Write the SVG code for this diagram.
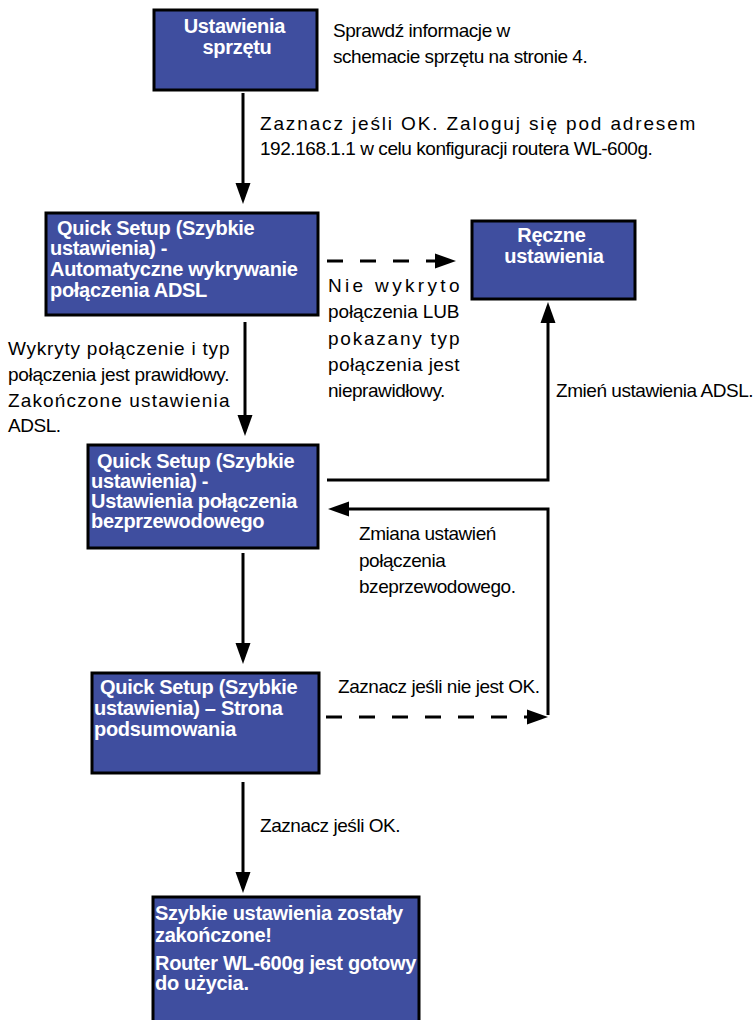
<svg xmlns="http://www.w3.org/2000/svg" width="755" height="1020" viewBox="0 0 755 1020">
  <style>
    .box { fill: #3f4e9f; stroke: #000; stroke-width: 3; }
    .bt { font-family: "Liberation Sans", Arial, sans-serif; font-weight: bold; font-size: 20px; letter-spacing: -0.3px; fill: #fff; }
    .lb { font-family: "Liberation Sans", Arial, sans-serif; font-size: 19px; letter-spacing: -0.45px; fill: #000; }
    .ln { fill: none; stroke: #000; stroke-width: 3; }
    .dash { stroke-dasharray: 16 17; }
  </style>
  <defs>
    <marker id="head" markerUnits="userSpaceOnUse" markerWidth="22" markerHeight="16" refX="14" refY="8" orient="auto">
      <path d="M0,0.5 L21,8 L0,15.5 z" fill="#000"/>
    </marker>
  </defs>
  <rect width="755" height="1020" fill="#fff"/>

  <!-- connectors -->
  <g id="connectors">
    <path class="ln" d="M243,93 V197" marker-end="url(#head)"/>
    <path class="ln dash" d="M327,261 H449" marker-end="url(#head)"/>
    <path class="ln" d="M245,322 V429" marker-end="url(#head)"/>
    <path class="ln" d="M327,480 H548 V309" marker-end="url(#head)"/>
    <path class="ln" d="M548,715 V509 H335" marker-end="url(#head)"/>
    <path class="ln" d="M243,553 V657" marker-end="url(#head)"/>
    <path class="ln dash" d="M326,717 H541" marker-end="url(#head)"/>
    <path class="ln" d="M243,782 V886" marker-end="url(#head)"/>
  </g>

  <!-- connector labels -->
  <g id="labels" class="lb">
    <text x="333" y="37">Sprawdź informacje w</text>
    <text x="333" y="63">schemacie sprzętu na stronie 4.</text>
    <text x="260" y="130" textLength="435" lengthAdjust="spacing">Zaznacz jeśli OK. Zaloguj się pod adresem</text>
    <text x="260" y="155">192.168.1.1 w celu konfiguracji routera WL-600g.</text>
    <text x="328" y="292" textLength="131" lengthAdjust="spacing">Nie wykryto</text>
    <text x="328" y="318" textLength="131" lengthAdjust="spacing">połączenia LUB</text>
    <text x="328" y="345" textLength="131" lengthAdjust="spacing">pokazany typ</text>
    <text x="328" y="371" textLength="131" lengthAdjust="spacing">połączenia jest</text>
    <text x="328" y="397">nieprawidłowy.</text>
    <text x="8" y="355" textLength="221" lengthAdjust="spacing">Wykryty połączenie i typ</text>
    <text x="8" y="381" textLength="221" lengthAdjust="spacing">połączenia jest prawidłowy.</text>
    <text x="8" y="407" textLength="221" lengthAdjust="spacing">Zakończone ustawienia</text>
    <text x="8" y="432">ADSL.</text>
    <text x="556" y="397">Zmień ustawienia ADSL.</text>
    <text x="359" y="540">Zmiana ustawień</text>
    <text x="359" y="567">połączenia</text>
    <text x="359" y="593">bzeprzewodowego.</text>
    <text x="338" y="693">Zaznacz jeśli nie jest OK.</text>
    <text x="260" y="832">Zaznacz jeśli OK.</text>
  </g>

  <!-- nodes -->
  <g id="hardware">
    <rect class="box" x="154" y="10" width="163" height="80"/>
    <text class="bt" text-anchor="middle">
      <tspan x="237" y="33">Ustawienia</tspan>
      <tspan x="237" y="54">sprzętu</tspan>
    </text>
  </g>

  <g id="quick-adsl">
    <rect class="box" x="46" y="213" width="272" height="102"/>
    <text class="bt">
      <tspan x="57" y="235">Quick Setup (Szybkie</tspan>
      <tspan x="50" y="255">ustawienia) -</tspan>
      <tspan x="50" y="276">Automatyczne wykrywanie</tspan>
      <tspan x="50" y="297">połączenia ADSL</tspan>
    </text>
  </g>

  <g id="manual">
    <rect class="box" x="472" y="221" width="163" height="78"/>
    <text class="bt" text-anchor="middle">
      <tspan x="554" y="242">Ręczne</tspan>
      <tspan x="554" y="263">ustawienia</tspan>
    </text>
  </g>

  <g id="quick-wireless">
    <rect class="box" x="88" y="445" width="230" height="103"/>
    <text class="bt">
      <tspan x="97" y="468">Quick Setup (Szybkie</tspan>
      <tspan x="91" y="488">ustawienia) -</tspan>
      <tspan x="91" y="508">Ustawienia połączenia</tspan>
      <tspan x="91" y="528">bezprzewodowego</tspan>
    </text>
  </g>

  <g id="quick-summary">
    <rect class="box" x="92" y="673" width="227" height="100"/>
    <text class="bt">
      <tspan x="100" y="694">Quick Setup (Szybkie</tspan>
      <tspan x="94" y="715">ustawienia) – Strona</tspan>
      <tspan x="94" y="736">podsumowania</tspan>
    </text>
  </g>

  <g id="done">
    <rect class="box" x="153" y="897" width="266" height="130"/>
    <text class="bt">
      <tspan x="155" y="920">Szybkie ustawienia zostały</tspan>
      <tspan x="155" y="942">zakończone!</tspan>
      <tspan x="155" y="970">Router WL-600g jest gotowy</tspan>
      <tspan x="155" y="990">do użycia.</tspan>
    </text>
  </g>
</svg>
